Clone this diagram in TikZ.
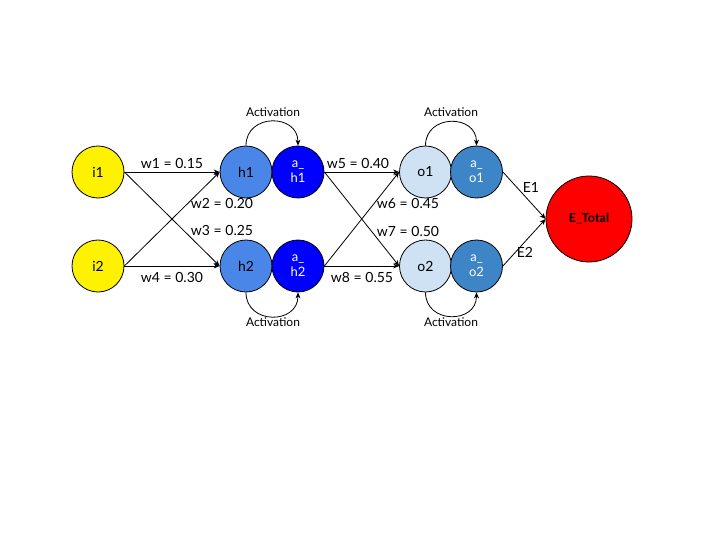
\documentclass[tikz,border=0pt]{standalone}
\usepackage{fontspec}
\setmainfont{Lato}
\usetikzlibrary{arrows.meta}
\definecolor{hcol}{HTML}{4A86E8}
\definecolor{ahcol}{HTML}{0000FF}
\definecolor{ocol}{HTML}{CFE2F3}
\definecolor{aocol}{HTML}{3D85C6}
\begin{document}
\begin{tikzpicture}[x=1pt,y=-1pt,
  neuron/.style={circle,draw=black,line width=0.8pt,minimum size=52pt,inner sep=0pt,font=\fontsize{14}{15}\selectfont},
  actn/.style={neuron,text=white,align=center,font=\fontsize{13}{15}\selectfont},
  conn/.style={line width=0.8pt,-{Stealth[length=6pt,width=5pt]}},
  wlab/.style={font=\fontsize{14}{15}\selectfont,inner sep=0pt},
  alab/.style={font=\fontsize{12}{13}\selectfont,inner sep=0pt}]
\useasboundingbox (0,0) rectangle (720,540);
\node[neuron,fill=yellow] (i1) at (98,172) {i1};
\node[neuron,fill=yellow] (i2) at (98,266) {i2};
\node[neuron,fill=hcol] (h1) at (246,172) {h1};
\node[actn,fill=ahcol] (ah1) at (298,172) {a\_\\h1};
\node[neuron,fill=hcol] (h2) at (246,266) {h2};
\node[actn,fill=ahcol] (ah2) at (298,266) {a\_\\h2};
\node[neuron,fill=ocol] (o1) at (425.5,172) {o1};
\node[actn,fill=aocol] (ao1) at (476.5,172) {a\_\\o1};
\node[neuron,fill=ocol] (o2) at (425.5,266) {o2};
\node[actn,fill=aocol] (ao2) at (476.5,266) {a\_\\o2};
\node[circle,draw=black,line width=0.8pt,fill=red,minimum size=86pt,inner sep=0pt,font=\fontsize{12.5}{13}\selectfont\bfseries] (E) at (589,219) {E\_Total};
% input to hidden
\draw[conn] (i1.east) -- (h1.west);
\draw[conn] (i1.east) -- (h2.west);
\draw[conn] (i2.east) -- (h1.west);
\draw[conn] (i2.east) -- (h2.west);
% hidden to output
\draw[conn] (ah1.east) -- (o1.west);
\draw[conn] (ah1.east) -- (o2.west);
\draw[conn] (ah2.east) -- (o1.west);
\draw[conn] (ah2.east) -- (o2.west);
% output to error
\draw[conn] (ao1.east) -- (E.west);
\draw[conn] (ao2.east) -- (E.west);
% activation loops
\draw[conn] (h1.north) to[out=90,in=90,looseness=1.6] (ah1.north);
\draw[conn] (h2.south) to[out=-90,in=-90,looseness=1.6] (ah2.south);
\draw[conn] (o1.north) to[out=90,in=90,looseness=1.6] (ao1.north);
\draw[conn] (o2.south) to[out=-90,in=-90,looseness=1.6] (ao2.south);
% labels
\node[alab] (act1) at (273,112) {Activation};
\node[alab] (act2) at (273,322) {Activation};
\node[alab] (act3) at (451,112) {Activation};
\node[alab] (act4) at (451,322) {Activation};
\node[wlab] (w1) at (172,163) {w1 = 0.15};
\node[wlab] (w2) at (222,203) {w2 = 0.20};
\node[wlab] (w3) at (222,230) {w3 = 0.25};
\node[wlab] (w4) at (172,277) {w4 = 0.30};
\node[wlab] (w5) at (358,163) {w5 = 0.40};
\node[wlab] (w6) at (408,203) {w6 = 0.45};
\node[wlab] (w7) at (408,231) {w7 = 0.50};
\node[wlab] (w8) at (362,277) {w8 = 0.55};
\node[wlab] (e1) at (531,187) {E1};
\node[wlab] (e2) at (525,252) {E2};
\end{tikzpicture}
\end{document}
